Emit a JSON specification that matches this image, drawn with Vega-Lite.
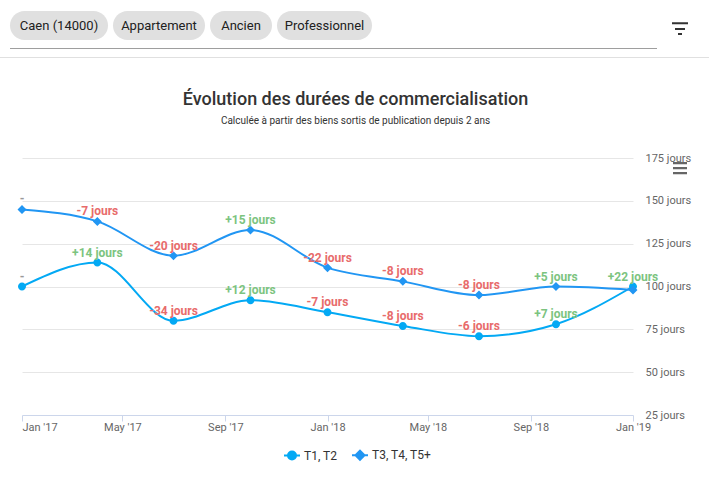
{
  "$schema": "https://vega.github.io/schema/vega-lite/v6.json",
  "background": "white",
  "padding": {"left": 0, "top": 11, "right": 0, "bottom": 0},
  "autosize": {"type": "pad"},
  "config": {"view": {"stroke": null}, "font": "Roboto"},
  "spacing": 33,
  "bounds": "full",
  "vconcat": [
    {
      "spacing": 8,
      "bounds": "full",
      "vconcat": [
        {
          "spacing": 5,
          "bounds": "flush",
          "hconcat": [
            {"width": 5, "height": 29, "data": {"values": [{}]}, "mark": {"type": "rect", "fill": "transparent"}},
            {"width": 98, "height": 29, "view": {"fill": "#e0e0e0", "cornerRadius": 14.5}, "data": {"values": [{"chip": "Caen (14000)"}]}, "mark": {"type": "text", "fontSize": 13, "color": "#212121"}, "encoding": {"text": {"field": "chip"}}},
            {"width": 92, "height": 29, "view": {"fill": "#e0e0e0", "cornerRadius": 14.5}, "data": {"values": [{"chip": "Appartement"}]}, "mark": {"type": "text", "fontSize": 13, "color": "#212121"}, "encoding": {"text": {"field": "chip"}}},
            {"width": 62, "height": 29, "view": {"fill": "#e0e0e0", "cornerRadius": 14.5}, "data": {"values": [{"chip": "Ancien"}]}, "mark": {"type": "text", "fontSize": 13, "color": "#212121"}, "encoding": {"text": {"field": "chip"}}},
            {"width": 95, "height": 29, "view": {"fill": "#e0e0e0", "cornerRadius": 14.5}, "data": {"values": [{"chip": "Professionnel"}]}, "mark": {"type": "text", "fontSize": 13, "color": "#212121"}, "encoding": {"text": {"field": "chip"}}},
            {"width": 290, "height": 29, "data": {"values": [{}]}, "mark": {"type": "rect", "fill": "transparent"}},
            {"width": 16, "height": 29, "data": {"values": [{"icon": "filtre"}]}, "mark": {"type": "point", "filled": true, "size": 4, "opacity": 1, "color": "#333333", "strokeWidth": 0, "shape": "M-8,-3.2h16v2h-16zM-5,2.5h10v2h-10zM-2,7.5h4v2h-4z"}}
          ]
        },
        {
          "spacing": 9,
          "bounds": "flush",
          "hconcat": [
            {"width": 1, "height": 1, "data": {"values": [{}]}, "mark": {"type": "rect", "fill": "transparent"}},
            {"width": 647, "height": 1, "view": {"fill": "#9e9e9e"}, "data": {"values": [{}]}, "mark": {"type": "rect", "fill": "transparent"}}
          ]
        },
        {"width": 709, "height": 1, "view": {"fill": "#e0e0e0"}, "data": {"values": [{}]}, "mark": {"type": "rect", "fill": "transparent"}}
      ]
    },
    {
      "spacing": 20,
      "bounds": "flush",
      "hconcat": [
        {"width": 2, "height": 1, "data": {"values": [{}]}, "mark": {"type": "rect", "fill": "transparent"}},
        {
          "width": 611,
          "height": 257,
          "title": {
            "text": "Évolution des durées de commercialisation",
            "subtitle": "Calculée à partir des biens sortis de publication depuis 2 ans",
            "font": "Roboto", "fontSize": 18, "fontWeight": 500, "color": "#333333",
            "subtitleFont": "Roboto", "subtitleFontSize": 10, "subtitleColor": "#333333",
            "subtitlePadding": 7, "anchor": "middle", "frame": "group", "dx": 28, "offset": 26
          },
          "data": {"values": [
            {"date": "2017-01-01", "serie": "T1, T2", "value": 100, "delta": null, "label": "-"},
            {"date": "2017-04-01", "serie": "T1, T2", "value": 114, "delta": 14, "label": "+14 jours"},
            {"date": "2017-07-01", "serie": "T1, T2", "value": 80, "delta": -34, "label": "-34 jours"},
            {"date": "2017-10-01", "serie": "T1, T2", "value": 92, "delta": 12, "label": "+12 jours"},
            {"date": "2018-01-01", "serie": "T1, T2", "value": 85, "delta": -7, "label": "-7 jours"},
            {"date": "2018-04-01", "serie": "T1, T2", "value": 77, "delta": -8, "label": "-8 jours"},
            {"date": "2018-07-01", "serie": "T1, T2", "value": 71, "delta": -6, "label": "-6 jours"},
            {"date": "2018-10-01", "serie": "T1, T2", "value": 78, "delta": 7, "label": "+7 jours"},
            {"date": "2019-01-01", "serie": "T1, T2", "value": 100, "delta": 22, "label": "+22 jours"},
            {"date": "2017-01-01", "serie": "T3, T4, T5+", "value": 145, "delta": null, "label": "-"},
            {"date": "2017-04-01", "serie": "T3, T4, T5+", "value": 138, "delta": -7, "label": "-7 jours"},
            {"date": "2017-07-01", "serie": "T3, T4, T5+", "value": 118, "delta": -20, "label": "-20 jours"},
            {"date": "2017-10-01", "serie": "T3, T4, T5+", "value": 133, "delta": 15, "label": "+15 jours"},
            {"date": "2018-01-01", "serie": "T3, T4, T5+", "value": 111, "delta": -22, "label": "-22 jours"},
            {"date": "2018-04-01", "serie": "T3, T4, T5+", "value": 103, "delta": -8, "label": "-8 jours"},
            {"date": "2018-07-01", "serie": "T3, T4, T5+", "value": 95, "delta": -8, "label": "-8 jours"},
            {"date": "2018-10-01", "serie": "T3, T4, T5+", "value": 100, "delta": 5, "label": "+5 jours"},
            {"date": "2019-01-01", "serie": "T3, T4, T5+", "value": 98, "delta": -2, "label": null}
          ]},
          "encoding": {
            "x": {
              "field": "date", "type": "temporal",
              "scale": {"type": "utc", "domain": [{"year": 2017, "month": 1, "date": 1, "utc": true}, {"year": 2019, "month": 1, "date": 1, "utc": true}]},
              "axis": {
                "title": null, "grid": false, "format": "%b '%y",
                "values": [
                  {"year": 2017, "month": 1, "date": 1, "utc": true},
                  {"year": 2017, "month": 5, "date": 1, "utc": true},
                  {"year": 2017, "month": 9, "date": 1, "utc": true},
                  {"year": 2018, "month": 1, "date": 1, "utc": true},
                  {"year": 2018, "month": 5, "date": 1, "utc": true},
                  {"year": 2018, "month": 9, "date": 1, "utc": true},
                  {"year": 2019, "month": 1, "date": 1, "utc": true}
                ],
                "domainColor": "#ccd6eb", "tickColor": "#ccd6eb", "tickSize": 6, "labelPadding": 0,
                "labelColor": "#666666", "labelFontSize": 11, "labelFont": "Roboto",
                "labelFlush": false, "labelOverlap": false,
                "labelAlign": {"condition": {"test": "datum.index === 0", "value": "left"}, "value": "center"}
              }
            },
            "y": {
              "field": "value", "type": "quantitative",
              "scale": {"domain": [25, 175], "nice": false, "zero": false},
              "axis": {
                "orient": "right", "title": null, "values": [25, 50, 75, 100, 125, 150, 175],
                "labelExpr": "datum.value + ' jours'", "grid": true,
                "gridColor": {"condition": {"test": "datum.value === 25", "value": "transparent"}, "value": "#e6e6e6"},
                "domain": false, "ticks": false, "labelPadding": 12,
                "labelColor": "#666666", "labelFontSize": 11, "labelFont": "Roboto"
              }
            }
          },
          "layer": [
            {
              "mark": {"type": "line", "interpolate": "monotone", "strokeWidth": 2},
              "encoding": {
                "color": {"field": "serie", "type": "nominal", "scale": {"domain": ["T1, T2", "T3, T4, T5+"], "range": ["#03a9f4", "#2196f3"]},
                  "legend": {"orient": "none", "legendX": 286, "legendY": 438, "direction": "horizontal", "title": null, "symbolSize": 4, "labelOffset": 6, "columnPadding": 10, "labelFontSize": 12, "labelColor": "#333333", "labelFont": "Roboto", "symbolStrokeWidth": 2, "padding": 0}}
              }
            },
            {
              "mark": {"type": "point", "filled": true, "size": 4, "opacity": 1, "strokeWidth": 0},
              "encoding": {
                "color": {"field": "serie", "type": "nominal", "scale": {"domain": ["T1, T2", "T3, T4, T5+"], "range": ["#03a9f4", "#2196f3"]},
                  "legend": {"orient": "none", "legendX": 286, "legendY": 438, "direction": "horizontal", "title": null, "symbolSize": 4, "labelOffset": 6, "columnPadding": 10, "labelFontSize": 12, "labelColor": "#333333", "labelFont": "Roboto", "symbolStrokeWidth": 2, "padding": 0}},
                "shape": {"field": "serie", "type": "nominal", "scale": {"domain": ["T1, T2", "T3, T4, T5+"], "range": ["M-8,0L8,0M4,0A4,4,0,1,1,-4,0A4,4,0,1,1,4,0Z", "M-8,0L8,0M0,-4.5L4.5,0L0,4.5L-4.5,0Z"]},
                  "legend": {"orient": "none", "legendX": 286, "legendY": 438, "direction": "horizontal", "title": null, "symbolSize": 4, "labelOffset": 6, "columnPadding": 10, "labelFontSize": 12, "labelColor": "#333333", "labelFont": "Roboto", "symbolStrokeWidth": 2, "padding": 0}}
              }
            },
            {
              "transform": [{"filter": "isValid(datum.label)"}],
              "mark": {"type": "text", "dy": -10, "fontSize": 12, "fontWeight": "bold", "font": "Roboto"},
              "encoding": {
                "text": {"field": "label"},
                "color": {"condition": [{"test": "datum.delta > 0", "value": "#7cc47f"}, {"test": "datum.delta < 0", "value": "#e86b6b"}], "value": "#999999"}
              }
            }
          ]
        },
        {"width": 34, "height": 20, "data": {"values": [{"icon": "menu"}]}, "mark": {"type": "point", "filled": true, "size": 4, "opacity": 1, "color": "#666666", "strokeWidth": 0, "shape": "M3,-6h14v2.2h-14zM3,-1h14v2.2h-14zM3,4h14v2.2h-14z"}}
      ]
    }
  ]
}
